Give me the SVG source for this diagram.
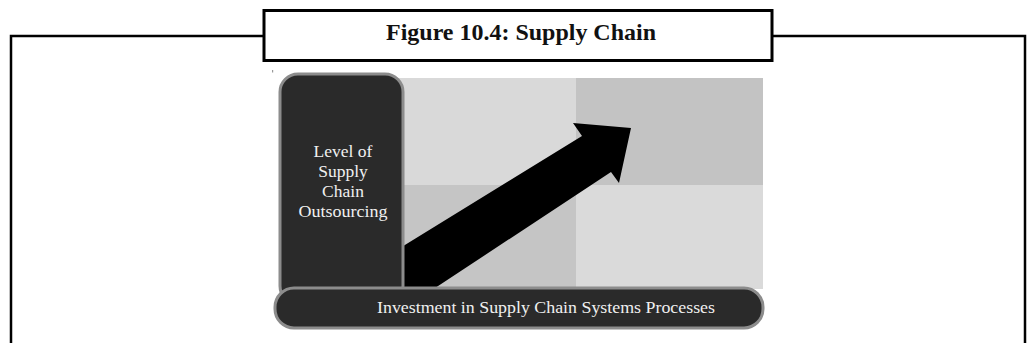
<svg xmlns="http://www.w3.org/2000/svg" width="1028" height="343" viewBox="0 0 1028 343">
  <style>
    .frame { fill: none; stroke: #000; stroke-width: 2.5; }
    .title { font-family: "Liberation Serif", "Times New Roman", serif; font-weight: bold; font-size: 23px; fill: #111; }
    .dark { fill: #2a2a2a; stroke: #8c8c8c; stroke-width: 3; }
    .lbl { font-family: "Liberation Serif", "Times New Roman", serif; font-size: 17.5px; fill: #f0f0f0; text-anchor: middle; }
    .blbl { font-family: "Liberation Serif", "Times New Roman", serif; font-size: 17.5px; fill: #f0f0f0; }
  </style>
  <rect width="1028" height="343" fill="#ffffff"/>
  <g id="frame">
    <path class="frame" d="M11,343 V36 H264 M772,36 H1025 V343"/>
  </g>
  <g id="title">
    <rect x="264" y="10.5" width="508" height="50" fill="#fff" stroke="#000" stroke-width="3"/>
    <text class="title" x="386" y="40" textLength="270" lengthAdjust="spacingAndGlyphs">Figure 10.4: Supply Chain</text>
  </g>
  <g id="background">
    <rect x="396" y="78" width="180" height="107" fill="#d9d9d9"/>
    <rect x="576" y="78" width="187" height="107" fill="#c3c3c3"/>
    <rect x="396" y="185" width="180" height="104" fill="#c5c5c5"/>
    <rect x="576" y="185" width="187" height="104" fill="#dadada"/>
    <rect x="272" y="70" width="1.2" height="2.5" fill="#999"/>
  </g>
  <g id="connectors">
    <polygon id="arrow" points="400,248 582,136 573,123 631,128 619,183 611,172 429,292 400,292" fill="#000"/>
  </g>
  <g id="level">
    <rect class="dark" x="280" y="74" width="123" height="230" rx="18" ry="18"/>
    <text class="lbl" x="343" y="157">Level of</text>
    <text class="lbl" x="343" y="177">Supply</text>
    <text class="lbl" x="343" y="197">Chain</text>
    <text class="lbl" x="343" y="217" textLength="89" lengthAdjust="spacingAndGlyphs">Outsourcing</text>
  </g>
  <g id="investment">
    <rect class="dark" x="275" y="288" width="488" height="40" rx="19" ry="19"/>
    <text class="blbl" x="377" y="313" textLength="338" lengthAdjust="spacingAndGlyphs">Investment in Supply Chain Systems Processes</text>
  </g>
</svg>
